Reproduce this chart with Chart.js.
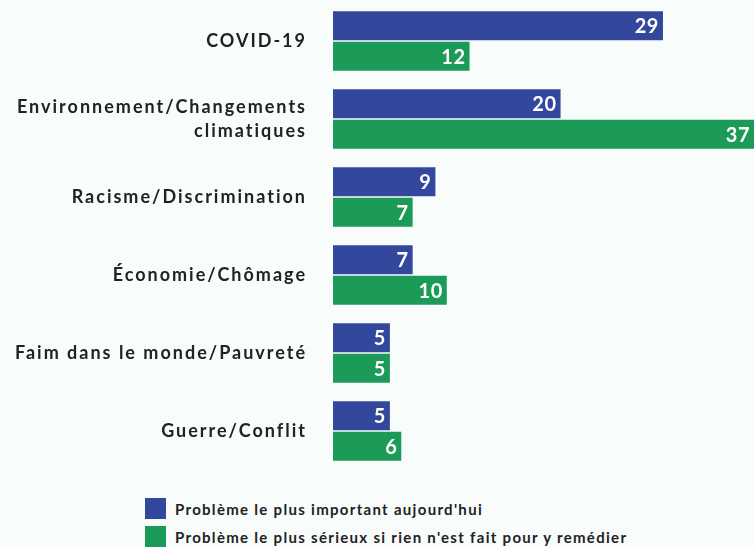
<!DOCTYPE html>
<html>
<head>
<meta charset="utf-8">
<script src="https://cdn.jsdelivr.net/npm/chart.js@4.4.1/dist/chart.umd.min.js"></script>
<style>
  html, body { margin: 0; padding: 0; background: #f8fcfb; }
  #wrap { position: relative; width: 754px; height: 547px; overflow: hidden; }
  #chartBox { position: absolute; left: 0; top: 0; width: 754px; height: 470px; }
  #legend { position: absolute; left: 145px; top: 498px; font-family: Lato, sans-serif; font-weight: 700; font-size: 15px; letter-spacing: 1.3px; color: #222; }
  .leg-row { display: flex; align-items: center; height: 21px; margin-bottom: 7px; }
  .leg-box { width: 21px; height: 21px; margin-right: 9px; }
</style>
</head>
<body>
<div id="wrap">
  <div id="chartBox"><canvas id="chart"></canvas></div>
  <div id="legend"></div>
</div>
<script>
const categories = [
  'COVID-19',
  ['Environnement/Changements', 'climatiques'],
  'Racisme/Discrimination',
  'Économie/Chômage',
  'Faim dans le monde/Pauvreté',
  'Guerre/Conflit'
];
const seriesNames = ["Problème le plus important aujourd'hui", "Problème le plus sérieux si rien n'est fait pour y remédier"];
const importantToday = [29, 20, 9, 7, 5, 5];
const seriousIfNothing = [12, 37, 7, 10, 5, 6];
const colors = ['#33479c', '#1c9a57'];

// white value labels at the end of each bar
const barValues = {
  id: 'barValues',
  afterDatasetsDraw(chart) {
    const ctx = chart.ctx;
    ctx.save();
    ctx.letterSpacing = '0.5px';
    ctx.font = '700 20px Lato, sans-serif';
    ctx.fillStyle = '#ffffff';
    ctx.textAlign = 'right';
    ctx.textBaseline = 'middle';
    chart.data.datasets.forEach((ds, i) => {
      chart.getDatasetMeta(i).data.forEach((bar, j) => {
        ctx.fillText(ds.data[j], Math.min(bar.x, chart.chartArea.right) - 4, bar.y + 1);
      });
    });
    ctx.restore();
  }
};

const labelSpacing = {
  id: 'labelSpacing',
  beforeDraw(chart) { chart.ctx.letterSpacing = '2px'; },
  afterDraw(chart) { chart.ctx.letterSpacing = '0px'; }
};

new Chart(document.getElementById('chart'), {
  type: 'bar',
  data: {
    labels: categories,
    datasets: [
      { label: seriesNames[0], data: importantToday, backgroundColor: colors[0] },
      { label: seriesNames[1], data: seriousIfNothing, backgroundColor: colors[1] },
    ],
  },
  options: {
    indexAxis: 'y',
    responsive: true, maintainAspectRatio: false,
    animation: false,
    layout: { padding: { top: 2, right: 0, bottom: 0, left: 0 } },
    datasets: { bar: { barPercentage: 0.95, categoryPercentage: 0.78 } },
    plugins: { legend: { display: false }, tooltip: { enabled: false } },
    scales: {
      x: { display: false, min: 0, max: 37 },
      y: {
        grid: { display: false, drawTicks: false },
        border: { display: false },
        afterFit: s => { s.width = 333; s.paddingTop = 0; s.paddingBottom = 0; },
        ticks: { padding: 26, color: '#222', font: { family: 'Lato, sans-serif', size: 18, weight: '700', lineHeight: 1.35 } },
      },
    },
  },
  plugins: [barValues, labelSpacing],
});

document.getElementById('legend').innerHTML = seriesNames.map((n, i) =>
  `<div class="leg-row"><div class="leg-box" style="background:${colors[i]}"></div><span>${n}</span></div>`
).join('');
</script>
</body>
</html>
